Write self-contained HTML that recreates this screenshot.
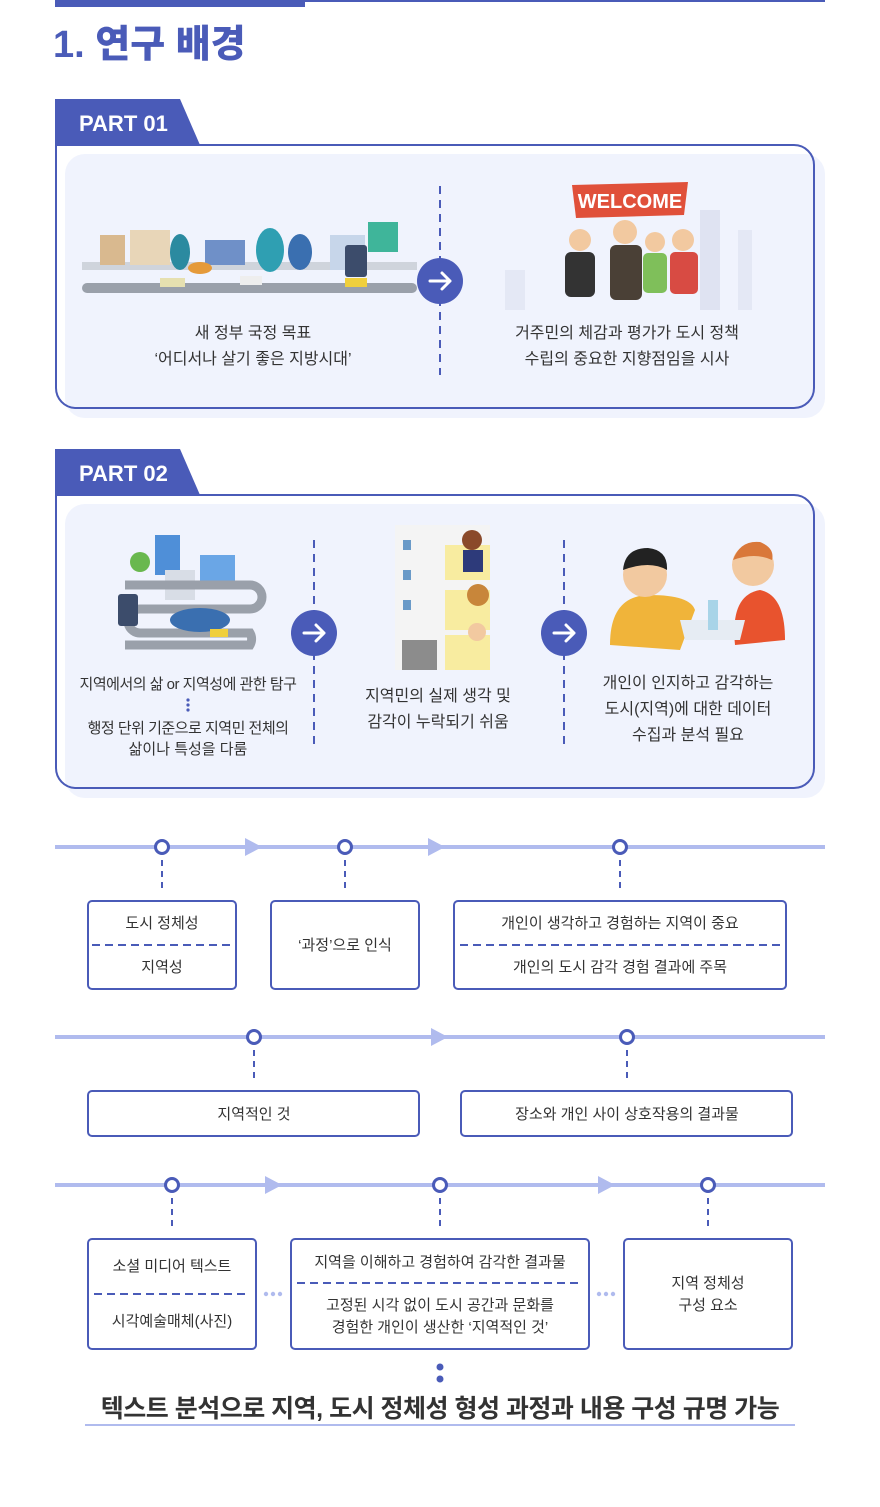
<!DOCTYPE html>
<html><head><meta charset="utf-8">
<style>
html,body{margin:0;padding:0;background:#fff;}
svg{display:block;}
text{font-family:"Liberation Sans","Noto Sans CJK KR",sans-serif;fill:#333;}
.t{font-size:16px;text-anchor:middle;}
.s{font-size:15px;text-anchor:middle;}
</style></head><body>
<svg width="880" height="1507" viewBox="0 0 880 1507" xmlns="http://www.w3.org/2000/svg">
<rect x="55" y="0" width="770" height="2" fill="#4a5bb8"/>
<rect x="55" y="0" width="250" height="7" fill="#4a5bb8"/>
<text x="53" y="57" style="font-size:38px;font-weight:900;fill:#4a5bb8">1. 연구 배경</text>

<!-- PART 01 -->
<rect x="65" y="154" width="760" height="264" rx="20" fill="#f0f3fd"/>
<path d="M56,145 H794 A20,20 0 0 1 814,165 V388 A20,20 0 0 1 794,408 H75 A20,20 0 0 1 56,388 Z" fill="none" stroke="#4a5bb8" stroke-width="2"/>
<path d="M55,99 H180 L200,145 H55 Z" fill="#4a5bb8"/>
<text x="79" y="131" style="font-size:22px;font-weight:bold;fill:#fff">PART 01</text>
<line x1="440" y1="186" x2="440" y2="375" stroke="#4a5bb8" stroke-width="2" stroke-dasharray="8,6"/>
<g>
<rect x="82" y="283" width="335" height="10" rx="5" fill="#9aa0aa"/>
<rect x="82" y="262" width="335" height="8" fill="#cfd4dc"/>
<rect x="100" y="235" width="25" height="30" fill="#d9b98f"/>
<rect x="130" y="230" width="40" height="35" fill="#e8d6b8"/>
<rect x="205" y="240" width="40" height="25" fill="#6f90c8"/>
<rect x="330" y="235" width="35" height="35" fill="#c7d6ea"/>
<ellipse cx="180" cy="252" rx="10" ry="18" fill="#2b8aa0"/>
<ellipse cx="270" cy="250" rx="14" ry="22" fill="#2f9fb2"/>
<ellipse cx="300" cy="252" rx="12" ry="18" fill="#3a6fb0"/>
<ellipse cx="200" cy="268" rx="12" ry="6" fill="#e59a3a"/>
<rect x="345" y="245" width="22" height="32" rx="3" fill="#3c4c6b"/>
<rect x="368" y="222" width="30" height="30" fill="#3fb59a"/>
<rect x="160" y="278" width="25" height="9" fill="#e6e0b0"/>
<rect x="240" y="276" width="22" height="9" fill="#eee"/>
<rect x="345" y="278" width="22" height="9" fill="#f0cf3c"/>
</g>
<circle cx="440" cy="281" r="23" fill="#4a5bb8"/>
<path d="M430,281 H450 M442,273 L450,281 L442,289" stroke="#fff" stroke-width="3" fill="none" stroke-linecap="round" stroke-linejoin="round"/>
<g>
<rect x="505" y="270" width="20" height="40" fill="#e4e8f5"/>
<rect x="700" y="210" width="20" height="100" fill="#dfe3f2"/>
<rect x="738" y="230" width="14" height="80" fill="#e4e8f5"/>
<path d="M572,185 L688,182 L684,215 L576,218 Z" fill="#e0503a"/>
<text x="630" y="208" style="font-size:20px;font-weight:bold;fill:#fff;text-anchor:middle">WELCOME</text>
<circle cx="580" cy="240" r="11" fill="#f2c9a0"/>
<circle cx="625" cy="232" r="12" fill="#f2c9a0"/>
<circle cx="655" cy="242" r="10" fill="#f2c9a0"/>
<circle cx="683" cy="240" r="11" fill="#f2c9a0"/>
<rect x="565" y="252" width="30" height="45" rx="6" fill="#333"/>
<rect x="610" y="245" width="32" height="55" rx="6" fill="#4a4036"/>
<rect x="643" y="253" width="24" height="40" rx="5" fill="#7fbf5a"/>
<rect x="670" y="252" width="28" height="42" rx="5" fill="#d84b43"/>
</g>
<text class="t" x="253" y="338">새 정부 국정 목표</text>
<text class="t" x="253" y="364">‘어디서나 살기 좋은 지방시대’</text>
<text class="t" x="627" y="338">거주민의 체감과 평가가 도시 정책</text>
<text class="t" x="627" y="364">수립의 중요한 지향점임을 시사</text>

<!-- PART 02 -->
<rect x="65" y="504" width="760" height="294" rx="20" fill="#f0f3fd"/>
<path d="M56,495 H794 A20,20 0 0 1 814,515 V768 A20,20 0 0 1 794,788 H75 A20,20 0 0 1 56,768 Z" fill="none" stroke="#4a5bb8" stroke-width="2"/>
<path d="M55,449 H180 L200,495 H55 Z" fill="#4a5bb8"/>
<text x="79" y="481" style="font-size:22px;font-weight:bold;fill:#fff">PART 02</text>
<line x1="314" y1="540" x2="314" y2="750" stroke="#4a5bb8" stroke-width="2" stroke-dasharray="8,6"/>
<line x1="564" y1="540" x2="564" y2="750" stroke="#4a5bb8" stroke-width="2" stroke-dasharray="8,6"/>
<g>
<rect x="155" y="535" width="25" height="40" fill="#4f8fd8"/>
<rect x="200" y="555" width="35" height="30" fill="#6aa6e6"/>
<rect x="165" y="570" width="30" height="30" fill="#d8dde6"/>
<path d="M125,585 H250 A12,12 0 0 1 250,609 H140 A12,12 0 0 0 140,633 H250 A12,12 0 0 1 250,645 H125" fill="none" stroke="#9aa0aa" stroke-width="9"/>
<rect x="118" y="594" width="20" height="32" rx="3" fill="#3c4c6b"/>
<ellipse cx="200" cy="620" rx="30" ry="12" fill="#3a6fb0"/>
<circle cx="140" cy="562" r="10" fill="#69b84e"/>
<rect x="210" y="629" width="18" height="8" fill="#f0cf3c"/>
</g>
<circle cx="314" cy="633" r="23" fill="#4a5bb8"/>
<path d="M304,633 H324 M316,625 L324,633 L316,641" stroke="#fff" stroke-width="3" fill="none" stroke-linecap="round" stroke-linejoin="round"/>
<g>
<rect x="395" y="525" width="95" height="145" fill="#f4f4f4"/>
<rect x="445" y="545" width="45" height="35" fill="#f8eca0"/>
<rect x="445" y="590" width="45" height="40" fill="#f8eca0"/>
<rect x="445" y="635" width="45" height="35" fill="#f8eca0"/>
<circle cx="472" cy="540" r="10" fill="#8a4a2a"/>
<rect x="463" y="550" width="20" height="22" fill="#2d3a7a"/>
<circle cx="478" cy="595" r="11" fill="#c8863a"/>
<circle cx="477" cy="632" r="9" fill="#f2c9a0"/>
<rect x="402" y="640" width="35" height="30" fill="#8c8c8c"/>
<rect x="403" y="540" width="8" height="10" fill="#6a9ac8"/>
<rect x="403" y="570" width="8" height="10" fill="#6a9ac8"/>
<rect x="403" y="600" width="8" height="10" fill="#6a9ac8"/>
</g>
<circle cx="564" cy="633" r="23" fill="#4a5bb8"/>
<path d="M554,633 H574 M566,625 L574,633 L566,641" stroke="#fff" stroke-width="3" fill="none" stroke-linecap="round" stroke-linejoin="round"/>
<g>
<path d="M610,645 Q610,595 650,595 Q690,595 695,610 L680,650 Z" fill="#f0b43a"/>
<circle cx="645" cy="575" r="22" fill="#f2c9a0"/>
<path d="M623,570 Q625,548 648,548 Q668,550 667,570 Q650,560 623,570Z" fill="#222"/>
<path d="M735,645 Q730,595 760,590 Q785,595 785,640 Z" fill="#e8532e"/>
<circle cx="753" cy="565" r="21" fill="#f2c9a0"/>
<path d="M733,560 Q740,540 760,542 Q775,548 772,560 Q755,552 733,560Z" fill="#d9783a"/>
<path d="M680,620 L745,620 L740,640 L685,640 Z" fill="#e6ecf3"/>
<rect x="708" y="600" width="10" height="30" fill="#a8d4e8"/>
</g>
<text class="s" x="188" y="689" style="letter-spacing:-0.5px">지역에서의 삶 or 지역성에 관한 탐구</text>
<circle cx="188" cy="700" r="1.6" fill="#4a5bb8"/><circle cx="188" cy="705" r="1.6" fill="#4a5bb8"/><circle cx="188" cy="710" r="1.6" fill="#4a5bb8"/>
<text class="s" x="188" y="733" style="letter-spacing:-0.5px">행정 단위 기준으로 지역민 전체의</text>
<text class="s" x="188" y="754">삶이나 특성을 다룸</text>
<text class="t" x="438" y="701">지역민의 실제 생각 및</text>
<text class="t" x="438" y="727">감각이 누락되기 쉬움</text>
<text class="t" x="688" y="688">개인이 인지하고 감각하는</text>
<text class="t" x="688" y="714">도시(지역)에 대한 데이터</text>
<text class="t" x="688" y="740">수집과 분석 필요</text>

<!-- timeline 1 -->
<line x1="55" y1="847" x2="825" y2="847" stroke="#b0bbee" stroke-width="4"/>
<path d="M245,838 L262,847 L245,856 Z M428,838 L445,847 L428,856 Z" fill="#b0bbee"/>
<g stroke="#4a5bb8" stroke-width="2" stroke-dasharray="6,5">
<line x1="162" y1="860" x2="162" y2="893"/><line x1="345" y1="860" x2="345" y2="893"/><line x1="620" y1="860" x2="620" y2="893"/>
</g>
<g fill="#fff" stroke="#4a5bb8" stroke-width="3">
<circle cx="162" cy="847" r="6.5"/><circle cx="345" cy="847" r="6.5"/><circle cx="620" cy="847" r="6.5"/>
</g>
<g fill="#fff" stroke="#4a5bb8" stroke-width="2">
<rect x="88" y="901" width="148" height="88" rx="4"/>
<rect x="271" y="901" width="148" height="88" rx="4"/>
<rect x="454" y="901" width="332" height="88" rx="4"/>
</g>
<g stroke="#4a5bb8" stroke-width="2" stroke-dasharray="8,5">
<line x1="92" y1="945" x2="232" y2="945"/><line x1="460" y1="945" x2="780" y2="945"/>
</g>
<text class="s" x="162" y="928">도시 정체성</text>
<text class="s" x="162" y="972">지역성</text>
<text class="s" x="345" y="950">‘과정’으로 인식</text>
<text class="s" x="620" y="928">개인이 생각하고 경험하는 지역이 중요</text>
<text class="s" x="620" y="972">개인의 도시 감각 경험 결과에 주목</text>

<!-- timeline 2 -->
<line x1="55" y1="1037" x2="825" y2="1037" stroke="#b0bbee" stroke-width="4"/>
<path d="M431,1028 L448,1037 L431,1046 Z" fill="#b0bbee"/>
<g stroke="#4a5bb8" stroke-width="2" stroke-dasharray="6,5">
<line x1="254" y1="1050" x2="254" y2="1083"/><line x1="627" y1="1050" x2="627" y2="1083"/>
</g>
<g fill="#fff" stroke="#4a5bb8" stroke-width="3"><circle cx="254" cy="1037" r="6.5"/><circle cx="627" cy="1037" r="6.5"/></g>
<g fill="#fff" stroke="#4a5bb8" stroke-width="2">
<rect x="88" y="1091" width="331" height="45" rx="4"/>
<rect x="461" y="1091" width="331" height="45" rx="4"/>
</g>
<text class="s" x="254" y="1119">지역적인 것</text>
<text class="s" x="627" y="1119">장소와 개인 사이 상호작용의 결과물</text>

<!-- timeline 3 -->
<line x1="55" y1="1185" x2="825" y2="1185" stroke="#b0bbee" stroke-width="4"/>
<path d="M265,1176 L282,1185 L265,1194 Z M598,1176 L615,1185 L598,1194 Z" fill="#b0bbee"/>
<g stroke="#4a5bb8" stroke-width="2" stroke-dasharray="6,5">
<line x1="172" y1="1198" x2="172" y2="1231"/><line x1="440" y1="1198" x2="440" y2="1231"/><line x1="708" y1="1198" x2="708" y2="1231"/>
</g>
<g fill="#fff" stroke="#4a5bb8" stroke-width="3"><circle cx="172" cy="1185" r="6.5"/><circle cx="440" cy="1185" r="6.5"/><circle cx="708" cy="1185" r="6.5"/></g>
<g fill="#fff" stroke="#4a5bb8" stroke-width="2">
<rect x="88" y="1239" width="168" height="110" rx="4"/>
<rect x="291" y="1239" width="298" height="110" rx="4"/>
<rect x="624" y="1239" width="168" height="110" rx="4"/>
</g>
<g stroke="#4a5bb8" stroke-width="2" stroke-dasharray="8,5">
<line x1="94" y1="1294" x2="250" y2="1294"/><line x1="297" y1="1283" x2="583" y2="1283"/>
</g>
<g fill="#b0bbee"><circle cx="266" cy="1294" r="2.2"/><circle cx="273" cy="1294" r="2.2"/><circle cx="280" cy="1294" r="2.2"/>
<circle cx="599" cy="1294" r="2.2"/><circle cx="606" cy="1294" r="2.2"/><circle cx="613" cy="1294" r="2.2"/></g>
<text class="s" x="172" y="1271">소셜 미디어 텍스트</text>
<text class="s" x="172" y="1326">시각예술매체(사진)</text>
<text class="s" x="440" y="1267">지역을 이해하고 경험하여 감각한 결과물</text>
<text class="s" x="440" y="1310">고정된 시각 없이 도시 공간과 문화를</text>
<text class="s" x="440" y="1332">경험한 개인이 생산한 ‘지역적인 것’</text>
<text class="s" x="708" y="1288">지역 정체성</text>
<text class="s" x="708" y="1310">구성 요소</text>
<g fill="#4a5bb8"><circle cx="440" cy="1367" r="3.5"/><circle cx="440" cy="1379" r="3.5"/></g>
<text x="440" y="1417" style="font-size:25px;font-weight:bold;text-anchor:middle;fill:#333;letter-spacing:-0.5px">텍스트 분석으로 지역, 도시 정체성 형성 과정과 내용 구성 규명 가능</text>
<rect x="85" y="1424" width="710" height="2" fill="#b0bbee"/>
</svg>
</body></html>
